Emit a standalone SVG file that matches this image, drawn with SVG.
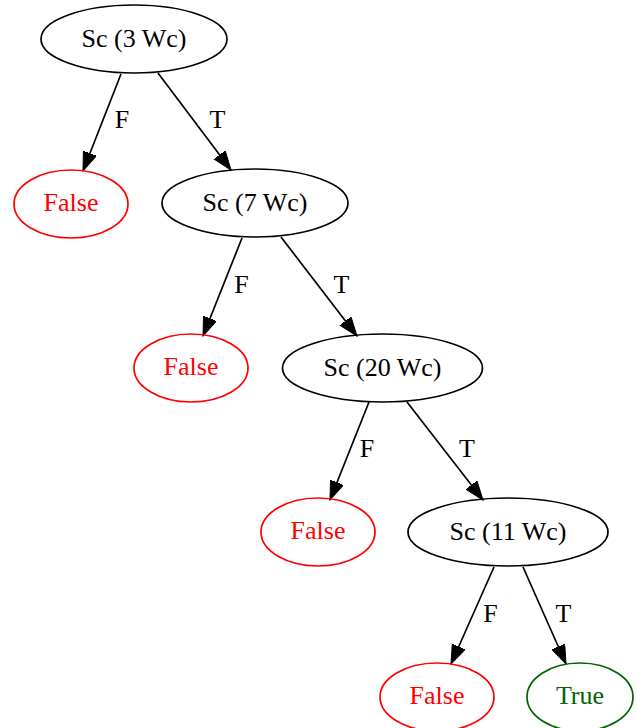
<svg xmlns="http://www.w3.org/2000/svg" width="638" height="728" viewBox="0 0 638 728">
<style>
text{font-family:"Liberation Serif","Times New Roman",serif;font-size:26px;text-anchor:middle}
.n ellipse{fill:none;stroke:#000;stroke-width:1.7}
.f ellipse{stroke:#ff0000}
.f text{fill:#ff0000}
.t ellipse{stroke:#006400}
.t text{fill:#006400}
.e line{stroke:#000;stroke-width:1.7;marker-end:url(#ah)}
</style>
<defs>
<marker id="ah" markerUnits="userSpaceOnUse" markerWidth="22" markerHeight="16" refX="19" refY="7" orient="auto">
<path d="M0,0 L19,7 L0,14 z" fill="#000" stroke="#000" stroke-width="1"/>
</marker>
</defs>
<rect width="638" height="728" fill="#fff"/>
<g id="edges" class="e">
<line x1="121" y1="74" x2="83" y2="171"/>
<line x1="158" y1="73" x2="231" y2="170"/>
<line x1="242" y1="238" x2="203" y2="336"/>
<line x1="281" y1="237" x2="357" y2="336"/>
<line x1="369" y1="402" x2="330" y2="500"/>
<line x1="407" y1="402" x2="483" y2="500"/>
<line x1="494" y1="567" x2="451" y2="664"/>
<line x1="523" y1="567" x2="566" y2="664"/>
<text x="122" y="128">F</text>
<text x="217.5" y="128">T</text>
<text x="241.5" y="293">F</text>
<text x="341.5" y="293">T</text>
<text x="367" y="457">F</text>
<text x="467" y="457">T</text>
<text x="490.5" y="622">F</text>
<text x="563.5" y="622">T</text>
</g>
<g id="n1" class="n"><ellipse cx="134" cy="39" rx="93" ry="34"/><text x="134" y="47">Sc (3 Wc)</text></g>
<g id="n2" class="n f"><ellipse cx="71" cy="204" rx="57" ry="34"/><text x="71" y="211">False</text></g>
<g id="n3" class="n"><ellipse cx="255" cy="203" rx="93" ry="34"/><text x="255" y="211">Sc (7 Wc)</text></g>
<g id="n4" class="n f"><ellipse cx="191" cy="368" rx="57" ry="34"/><text x="191" y="375">False</text></g>
<g id="n5" class="n"><ellipse cx="382.5" cy="368" rx="100" ry="34"/><text x="382.5" y="376">Sc (20 Wc)</text></g>
<g id="n6" class="n f"><ellipse cx="318" cy="532" rx="57" ry="34"/><text x="318" y="539">False</text></g>
<g id="n7" class="n"><ellipse cx="508" cy="532" rx="100" ry="34"/><text x="508" y="540">Sc (11 Wc)</text></g>
<g id="n8" class="n f"><ellipse cx="437" cy="697" rx="57" ry="34"/><text x="437" y="704">False</text></g>
<g id="n9" class="n t"><ellipse cx="580" cy="697" rx="53" ry="34"/><text x="580" y="704">True</text></g>
</svg>
